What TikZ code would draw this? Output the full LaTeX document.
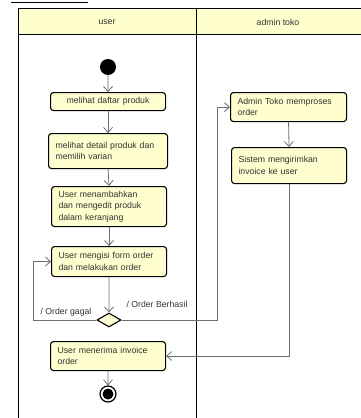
\documentclass[tikz,border=0pt]{standalone}
\usepackage{fontspec}
\setmainfont{Liberation Sans}
\usetikzlibrary{arrows.meta,shapes.geometric}
\definecolor{hdrfill}{RGB}{255,255,206}
\definecolor{boxfill}{RGB}{254,254,206}
\definecolor{linegray}{RGB}{110,110,110}
\definecolor{txt}{RGB}{50,50,50}
\tikzset{
  actbox/.style={draw=black, line width=1.1pt, fill=boxfill, rounded corners=3pt,
    anchor=north west, inner xsep=7pt, inner ysep=0pt, align=left,
    font=\fontsize{8.7}{11.5}\selectfont, text=txt},
  arr/.style={draw=linegray, line width=0.8pt, -{Straight Barb[length=5pt,width=9pt]}},
  lbl/.style={font=\fontsize{8.7}{10}\selectfont, text=txt, inner sep=0pt},
  lane/.style={draw=black, line width=1pt}
}
\begin{document}
\begin{tikzpicture}[x=1pt,y=-1pt]
\useasboundingbox (0,0) rectangle (361,418);
\clip (0,0) rectangle (361,418);
% title underline
\draw[line width=0.9pt] (11,2) -- (88,2);
% swimlanes
\fill[hdrfill] (18,8) rectangle (365,34);
\draw[lane] (365,8) -- (18,8) -- (18,425);
\draw[lane] (18,34) -- (365,34);
\draw[lane] (196,8) -- (196,425);
\node[lbl] (hu) at (107,22) {user};
\node[lbl] (ha) at (278,22) {admin toko};
% nodes
\node[circle, fill=black, minimum size=16pt, inner sep=0pt] (init) at (108,67) {};
\node[actbox, align=center, text width=101pt, minimum height=18pt] (b1) at (50,92) {melihat daftar produk};
\node[actbox, text width=105pt, minimum height=35pt] (b2) at (48,133) {melihat detail produk dan\\memilih varian};
\node[actbox, text width=101pt, minimum height=40pt] (b3) at (51,186) {User menambahkan\\dan mengedit produk\\dalam keranjang};
\node[actbox, text width=101pt, minimum height=30pt] (b4) at (51,246) {User mengisi form order\\dan melakukan order};
\node[diamond, draw=black, line width=1.1pt, fill=boxfill, minimum width=24pt, minimum height=14pt, aspect=1.7, inner sep=0pt] (dec) at (109,320) {};
\node[actbox, text width=101pt, minimum height=29pt] (b5) at (50,341) {User menerima invoice\\order};
\node[circle, draw=black, line width=1.2pt, minimum size=16pt, inner sep=0pt] (fin) at (108,394) {};
\fill[black] (fin.center) circle (5.5pt);
\node[actbox, text width=102pt, minimum height=29pt] (a1) at (230,92) {Admin Toko memproses\\order};
\node[actbox, text width=101pt, minimum height=36pt] (a2) at (231,147) {Sistem mengirimkan\\invoice ke user};
% labels
\node[lbl] (lg) at (66,312) {/ Order gagal};
\node[lbl] (lb) at (157,304) {/ Order Berhasil};
% connectors
\coordinate (gl) at (33,320);
\coordinate (gr) at (217,320);
\draw[arr] (init) -- (b1);
\draw[arr] (b1.south) -- (b2.north);
\draw[arr] (b2.south) -- (b3.north);
\draw[arr] (b3.south) -- (b4.north);
\draw[arr] (b4.south) -- (dec.north);
\draw[arr] (dec.west) -- (gl) |- (b4.west);
\draw[arr] (dec.east) -- (gr) |- (a1.west);
\draw[arr] (a1.south) -- (a2.north);
\draw[arr] (a2.south) |- (b5.east);
\draw[arr] (b5.south) -- (fin.north);
\end{tikzpicture}
\end{document}
